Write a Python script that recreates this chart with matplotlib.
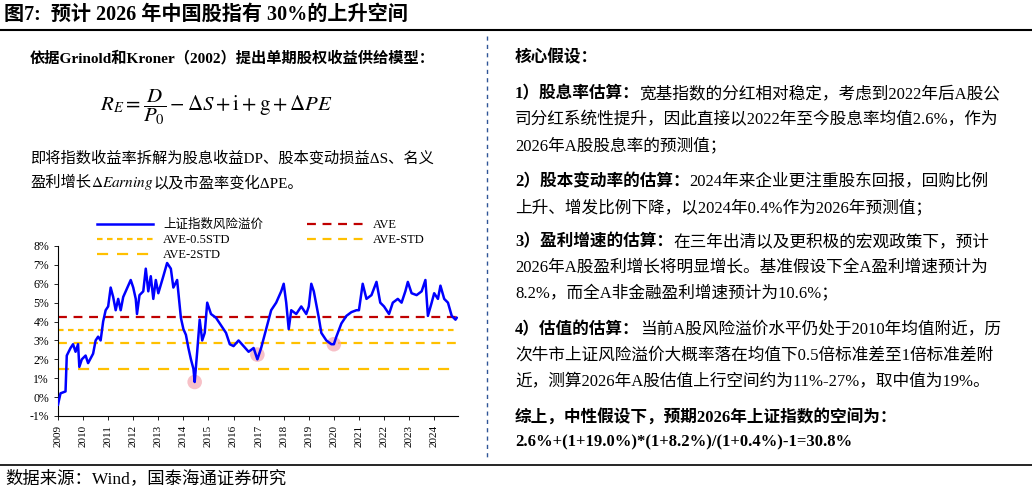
import matplotlib
matplotlib.use("Agg")
import matplotlib.pyplot as plt
from matplotlib.lines import Line2D

plt.rcParams['font.family'] = ['Liberation Serif', 'Noto Sans CJK SC', 'DejaVu Sans']
plt.rcParams['mathtext.fontset'] = 'stix'

years = [2009.0,2009.1,2009.3,2009.35,2009.5,2009.6,2009.7,2009.8,2009.85,2009.95,2010.1,2010.2,2010.4,2010.5,2010.6,2010.7,2010.8,2010.9,
 2011.0,2011.1,2011.2,2011.3,2011.4,2011.5,2011.6,2011.8,2011.9,2012.0,2012.1,2012.15,2012.25,2012.4,2012.5,2012.6,2012.7,2012.8,2012.9,
 2013.0,2013.2,2013.35,2013.5,2013.6,2013.75,2013.9,2014.0,2014.1,2014.2,2014.3,2014.4,2014.45,2014.55,2014.65,2014.75,2014.85,2014.95,
 2015.1,2015.3,2015.5,2015.7,2015.85,2016.0,2016.2,2016.4,2016.6,2016.8,2016.95,2017.1,2017.3,2017.5,2017.7,2017.9,2018.0,2018.1,2018.2,
 2018.3,2018.5,2018.7,2018.9,2019.0,2019.1,2019.2,2019.4,2019.5,2019.7,2019.9,2020.0,2020.1,2020.3,2020.5,2020.7,2020.9,2021.0,2021.15,
 2021.3,2021.5,2021.7,2021.85,2022.0,2022.2,2022.35,2022.55,2022.7,2022.85,2022.95,2023.1,2023.3,2023.5,2023.65,2023.75,2023.9,2024.0,
 2024.15,2024.25,2024.4,2024.55,2024.7,2024.85,2024.9]
premium = [-0.4,0.2,0.3,2.2,2.6,2.8,2.4,2.8,1.6,2.0,2.2,1.8,2.3,3.0,3.2,3.0,4.0,4.6,
 4.8,5.8,5.3,4.6,5.2,4.6,5.3,5.9,6.2,5.8,5.2,4.4,5.4,5.6,6.8,5.6,6.4,5.2,6.2,
 5.5,6.4,7.1,6.8,5.8,6.2,4.2,3.6,3.3,2.6,2.0,1.5,0.8,2.4,4.1,3.0,3.4,5.0,
 4.4,4.2,3.8,3.4,2.8,2.7,3.0,2.7,2.4,2.6,2.0,2.6,3.6,4.6,5.0,5.6,6.0,5.0,3.6,
 4.6,4.4,4.8,4.4,4.8,6.0,5.6,4.2,3.4,3.0,2.8,2.8,3.2,3.9,4.3,4.5,4.6,4.6,6.0,
 5.2,5.4,6.1,5.0,4.8,4.4,5.0,5.2,5.0,5.6,6.1,5.5,5.4,5.6,6.2,4.3,5.0,5.5,
 5.2,5.9,5.2,5.0,4.3,4.1,4.2]
ave, ave_half, ave_std, ave_2std = 4.25, 3.55, 2.85, 1.5
lows_x = [2014.45, 2016.95, 2020.0]
lows_y = [0.8, 2.25, 2.8]
tick_years = list(range(2009, 2025))

W, H = 1032, 493
fig = plt.figure(figsize=(W/100, H/100), dpi=100)
def fx(px): return px / W
def fy(py): return 1 - py / H

fig.add_artist(Line2D([0, 1], [fy(30), fy(30)], color='black', lw=1.5))
fig.add_artist(Line2D([0, 1], [fy(465), fy(465)], color='black', lw=1.2))
fig.add_artist(Line2D([fx(487), fx(487)], [fy(36), fy(458)], color='#2f5597', lw=1, ls=(0, (3, 3))))
fig.text(fx(4), fy(15), '图7:  预计 2026 年中国股指有 30%的上升空间', fontsize=14.5, fontweight='bold', va='center')
fig.text(fx(5), fy(479), '数据来源：Wind，国泰海通证券研究', fontsize=12.5, va='center')

fig.canvas.draw()
r = fig.canvas.get_renderer()
def rich(x, y, segs, fs):
    for s, b in segs:
        t = fig.text(fx(x), fy(y), s, fontsize=fs, fontweight='bold' if b else 'normal', va='center')
        bb = t.get_window_extent(renderer=r)
        x += bb.width

LF, RF = 11, 12
rich(30, 58, [('依据Grinold和Kroner（2002）提出单期股权收益供给模型：', True)], LF)
fig.text(fx(100), fy(107), r'$R_E=\dfrac{D}{P_0}-\Delta S+\mathrm{i}+\mathrm{g}+\Delta PE$', fontsize=15, va='center')
rich(30, 158, [('即将指数收益率拆解为股息收益DP、股本变动损益ΔS、名义', False)], LF)
rich(30, 183, [('盈利增长', False), (r'$\Delta Earning$', False), ('以及市盈率变化ΔPE。', False)], LF)

rich(515, 58, [('核心假设：', True)], RF)
rich(515, 94, [('1）股息率估算：', True), ('宽基指数的分红相对稳定，考虑到2022年后A股公', False)], RF)
rich(515, 120, [('司分红系统性提升，因此直接以2022年至今股息率均值2.6%，作为', False)], RF)
rich(515, 146, [('2026年A股股息率的预测值；', False)], RF)
rich(515, 182, [('2）股本变动率的估算：', True), ('2024年来企业更注重股东回报，回购比例', False)], RF)
rich(515, 208, [('上升、增发比例下降，以2024年0.4%作为2026年预测值；', False)], RF)
rich(515, 242, [('3）盈利增速的估算：', True), ('在三年出清以及更积极的宏观政策下，预计', False)], RF)
rich(515, 268, [('2026年A股盈利增长将明显增长。基准假设下全A盈利增速预计为', False)], RF)
rich(515, 294, [('8.2%，而全A非金融盈利增速预计为10.6%；', False)], RF)
rich(515, 330, [('4）估值的估算：', True), ('当前A股风险溢价水平仍处于2010年均值附近，历', False)], RF)
rich(515, 356, [('次牛市上证风险溢价大概率落在均值下0.5倍标准差至1倍标准差附', False)], RF)
rich(515, 382, [('近，测算2026年A股估值上行空间约为11%-27%，取中值为19%。', False)], RF)
rich(515, 418, [('综上，中性假设下，预期2026年上证指数的空间为：', True)], RF)
rich(515, 442, [('2.6%+(1+19.0%)*(1+8.2%)/(1+0.4%)-1=30.8%', True)], RF)

ax = fig.add_axes([fx(58), fy(416), fx(458) - fx(58), fy(246) - fy(416)])
ax.plot(years, premium, color='#0000ff', lw=1.8, label='上证指数风险溢价', zorder=3)
ax.axhline(ave, color='#c00000', lw=1.6, ls=(0, (4, 3)), label='AVE')
ax.axhline(ave_half, color='#ffc000', lw=1.6, ls=(0, (2.5, 2)), label='AVE-0.5STD')
ax.axhline(ave_std, color='#ffc000', lw=1.6, ls=(0, (4, 3)), label='AVE-STD')
ax.axhline(ave_2std, color='#ffc000', lw=1.6, ls=(0, (5, 4)), label='AVE-2STD')
ax.scatter(lows_x, lows_y, s=110, color='#f4a6b0', alpha=0.7, zorder=2, edgecolors='none')
ax.set_xlim(2009, 2024.95)
ax.set_ylim(-1, 8)
ax.set_yticks(range(-1, 9))
ax.set_yticklabels([f'{v}%' for v in range(-1, 9)], fontsize=8.5)
ax.set_xticks(tick_years)
ax.set_xticklabels([str(y) for y in tick_years], rotation=90, fontsize=8)
for s in ['top', 'right']:
    ax.spines[s].set_visible(False)
ax.tick_params(length=3, width=0.6)
h, l = ax.get_legend_handles_labels()
order = [0, 2, 4, 1, 3]
fig.legend([h[i] for i in order], [l[i] for i in order], ncol=2, loc='upper left',
           bbox_to_anchor=(fx(92), fy(214)), frameon=False, fontsize=9,
           handlelength=4.5, columnspacing=3.5, labelspacing=0.25, borderaxespad=0)

fig.savefig('out.png', dpi=100)
